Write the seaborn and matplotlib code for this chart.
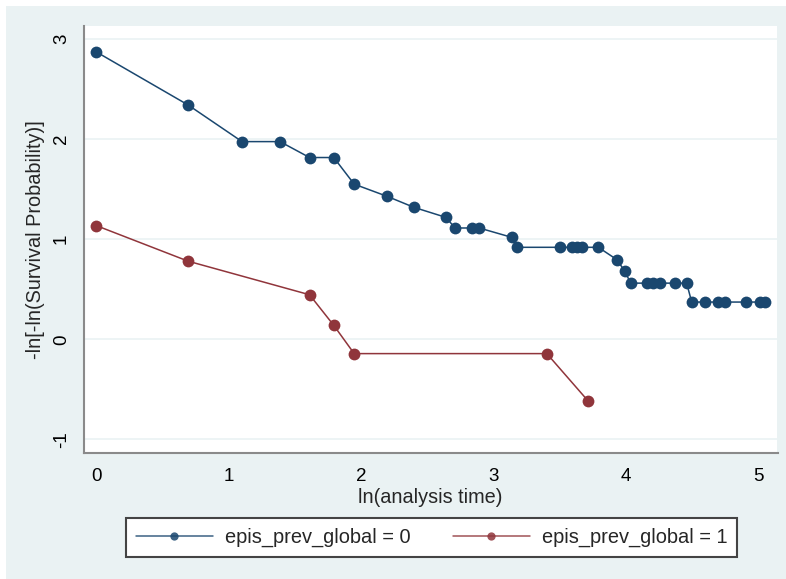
import numpy as np
import pandas as pd
import matplotlib
matplotlib.use("Agg")
import matplotlib.pyplot as plt
import seaborn as sns
from matplotlib.patches import Rectangle

# ---- data ----
x_group0 = [0.0, 0.693, 1.099, 1.386, 1.609, 1.792, 1.946, 2.197, 2.398, 2.639,
            2.708, 2.833, 2.890, 3.135, 3.178, 3.497, 3.593, 3.626, 3.664, 3.790,
            3.932, 3.989, 4.035, 4.155, 4.205, 4.256, 4.369, 4.457, 4.495, 4.596,
            4.696, 4.747, 4.906, 5.011, 5.049]
y_group0 = [2.87, 2.34, 1.975, 1.975, 1.816, 1.816, 1.55, 1.427, 1.318, 1.218,
            1.112, 1.112, 1.112, 1.019, 0.919, 0.919, 0.919, 0.919, 0.919, 0.919,
            0.794, 0.68, 0.561, 0.561, 0.561, 0.561, 0.561, 0.561, 0.372, 0.372,
            0.372, 0.372, 0.372, 0.372, 0.372]
x_group1 = [0.0, 0.693, 1.609, 1.792, 1.946, 3.401, 3.714]
y_group1 = [1.135, 0.78, 0.445, 0.139, -0.143, -0.143, -0.618]

labels = ["epis_prev_global = 0", "epis_prev_global = 1"]
x_ticks = [0, 1, 2, 3, 4, 5]
y_ticks = [-1, 0, 1, 2, 3]
x_title = "ln(analysis time)"
y_title = "-ln[-ln(Survival Probability)]"

colors = ["#1a476f", "#90353b"]
bg = "#eaf2f3"

sns.set_theme(style="white")
plt.rcParams['font.family'] = ['Liberation Sans', 'DejaVu Sans']

W, H = 786, 579
fig = plt.figure(figsize=(W / 100, H / 100), dpi=100)
fig.patch.set_facecolor("white")
fig.patches.append(Rectangle((6 / W, 0), 1, 1 - 6 / H, transform=fig.transFigure,
                             facecolor=bg, edgecolor="none", zorder=-10))

ax = fig.add_axes([84 / W, 1 - 452.7 / H, (777.5 - 84) / W, (452.7 - 26) / H])
ax.set_facecolor("white")

df0 = pd.DataFrame({"x": x_group0, "y": y_group0})
df1 = pd.DataFrame({"x": x_group1, "y": y_group1})
sns.lineplot(data=df0, x="x", y="y", ax=ax, color=colors[0], marker="o",
             markersize=8.5, markeredgewidth=0, linewidth=1.1, estimator=None,
             sort=False, label=labels[0])
sns.lineplot(data=df1, x="x", y="y", ax=ax, color=colors[1], marker="o",
             markersize=8.5, markeredgewidth=0, linewidth=1.1, estimator=None,
             sort=False, label=labels[1])

ax.set_xlim(-0.0944, 5.143)
ax.set_ylim(-1.133, 3.13)
ax.set_xticks(x_ticks)
ax.set_yticks(y_ticks)
ax.set_xticklabels([str(t) for t in x_ticks], fontsize=13.5)
ax.set_yticklabels([str(t) for t in y_ticks], fontsize=13.5, rotation=90, va="center")
ax.yaxis.grid(True, color=bg, linewidth=1.2)
ax.xaxis.grid(False)
ax.set_axisbelow(True)

for s in ["top", "right"]:
    ax.spines[s].set_visible(False)
for s in ["left", "bottom"]:
    ax.spines[s].set_color("#8a8a8a")
    ax.spines[s].set_linewidth(1.5)
ax.tick_params(axis="both", which="major", direction="out", length=5,
               width=1.2, color="#8a8a8a", labelcolor="black")
ax.tick_params(axis="x", pad=6)
ax.tick_params(axis="y", pad=5)

ax.set_xlabel(x_title, fontsize=14.3, labelpad=2)
ax.set_ylabel(y_title, fontsize=14.3, labelpad=6)

fs = 14.4
leg = ax.legend(loc="center", bbox_to_anchor=(431.5 / W, 1 - 537.5 / H),
                bbox_transform=fig.transFigure, ncol=2, fontsize=fs,
                frameon=True, fancybox=False, framealpha=1, facecolor="white",
                edgecolor="#444444", handlelength=3.85, handletextpad=0.6,
                columnspacing=2.1, borderpad=0.5, markerscale=0.7)
leg.get_frame().set_linewidth(1.5)
for h in leg.get_lines():
    h.set_alpha(0.85)

fig.savefig("out.png", dpi=100, facecolor=fig.get_facecolor())
